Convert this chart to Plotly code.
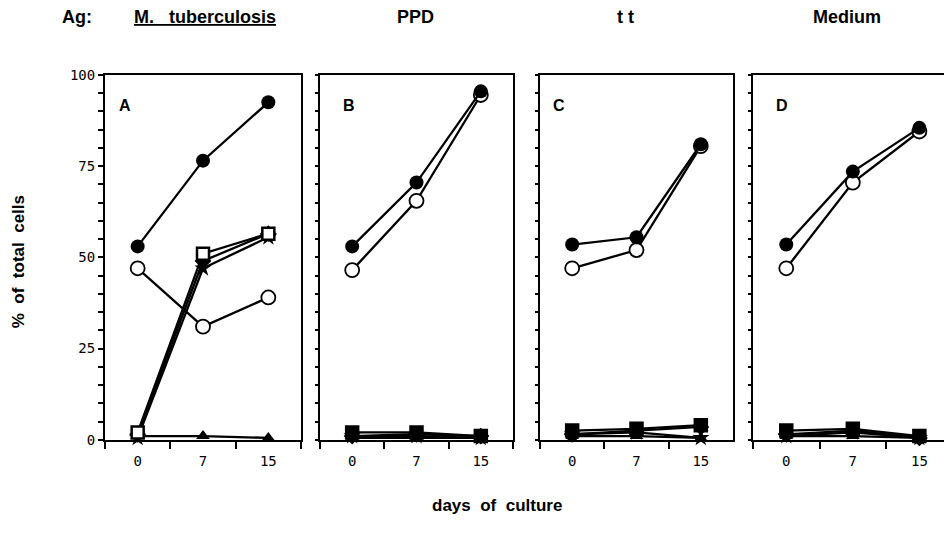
import plotly.graph_objects as go

W, H = 944, 537

days = ["0", "7", "15"]
panels = ["A", "B", "C", "D"]
antigens = ["M. tuberculosis", "PPD", "t t", "Medium"]

# series per panel (% of total cells)
filled_circle = {"A": [53, 76.5, 92.5], "B": [53, 70.5, 95.5], "C": [53.5, 55.5, 81], "D": [53.5, 73.5, 85.5]}
open_circle = {"A": [47, 31, 39], "B": [46.5, 65.5, 94.5], "C": [47, 52, 80.5], "D": [47, 70.5, 84.5]}
square = {"A": [2, 51, 56.5], "B": [2, 2, 1], "C": [2.5, 3, 4], "D": [2.5, 3, 1]}
filled_diamond = {"A": [1.5, 49, 56.5], "B": [1, 1.5, 1], "C": [1.5, 2.5, 3.5], "D": [1.5, 2.5, 0.5]}
filled_star = {"A": [0.5, 47, 55.5], "B": [1, 1, 0.5], "C": [1.5, 2, 0.5], "D": [1, 2, 0.5]}
filled_triangle = {"A": [1, 1, 0.5], "B": [0.5, 0.5, 0.5], "C": [1, 1, 0.5], "D": [1, 1, 0.5]}

y_ticks = list(range(0, 101, 5))
y_labels = [str(v) if v % 25 == 0 else "" for v in y_ticks]

# layout geometry (pixels)
px_left = [105, 320, 540, 753]
px_right = [301, 513, 733, 944]
x_ranges = [[-0.5, 2.5], [-0.5, 2.5], [-0.5, 2.5], [-0.5, 2.37]]
px_top, px_bottom = 69, 445
label_off = [20, 29, 19, 29]
header_x = [205, 415, 625, 847]
header_y = 9

fig = go.Figure()

for i, p in enumerate(panels):
    sfx = "" if i == 0 else str(i + 1)
    sq_fill = "white" if p == "A" else "black"
    series = [
        (filled_triangle, dict(symbol="triangle-up", size=12, color="black")),
        (filled_star, dict(symbol="star", size=13, color="black")),
        (filled_diamond, dict(symbol="diamond", size=13, color="black")),
        (square, dict(symbol="square", size=12, color=sq_fill, line=dict(color="black", width=2.5))),
        (open_circle, dict(symbol="circle", size=14, color="white", line=dict(color="black", width=1.8))),
        (filled_circle, dict(symbol="circle", size=14, color="black")),
    ]
    for data, mk in series:
        fig.add_trace(go.Scatter(
            x=days, y=data[p], mode="lines+markers",
            line=dict(color="black", width=2.3), marker=mk,
            xaxis="x" + sfx, yaxis="y" + sfx, showlegend=False, cliponaxis=False,
        ))

tickfont = dict(family="DejaVu Sans Mono", size=14, color="black")
for i, p in enumerate(panels):
    sfx = "" if i == 0 else str(i + 1)
    fig.layout["xaxis" + sfx] = dict(
        domain=[px_left[i] / W, px_right[i] / W], anchor="y" + sfx,
        type="category", categoryorder="array", categoryarray=days,
        range=x_ranges[i], tickson="boundaries", ticks="outside", ticklen=7, tickwidth=1.5,
        tickcolor="black", showline=True, linecolor="black", linewidth=2, mirror=True,
        showgrid=False, zeroline=False, tickfont=tickfont, fixedrange=True,
        ticklabelstandoff=7,
    )
    fig.layout["yaxis" + sfx] = dict(
        domain=[1 - px_bottom / H, 1 - px_top / H], anchor="x" + sfx,
        range=[0, 100], tickmode="array", tickvals=y_ticks,
        ticktext=y_labels, showticklabels=(i == 0),
        ticks="outside", ticklen=5 if i == 0 else 3, tickwidth=1.5, tickcolor="black",
        showline=True, linecolor="black", linewidth=2, mirror=(i != 3),
        showgrid=False, zeroline=False, tickfont=tickfont, fixedrange=True,
    )
    fig.add_annotation(
        text="<b>" + p + "</b>", xref="x" + sfx + " domain", yref="y" + sfx + " domain",
        x=label_off[i] / (px_right[i] - px_left[i]),
        y=1 - (100 - px_top) / (px_bottom - px_top),
        showarrow=False, xanchor="center", yanchor="middle",
        font=dict(family="Liberation Sans", size=16, color="black"),
    )

hfont = dict(family="Liberation Sans", size=18, color="black")
fig.add_annotation(text="<b>Ag:</b>", xref="paper", yref="paper", x=77 / W, y=1 - header_y / H,
                   showarrow=False, xanchor="center", yanchor="middle", font=hfont)
for i, a in enumerate(antigens):
    txt = "<b><u>" + a.replace(" ", "\u00a0\u00a0\u00a0") + "</u></b>" if i == 0 else "<b>" + a + "</b>"
    fig.add_annotation(text=txt, xref="paper", yref="paper", x=header_x[i] / W, y=1 - header_y / H,
                       showarrow=False, xanchor="center", yanchor="middle", font=hfont)

fig.add_annotation(text="<b>%\u00a0\u00a0of\u00a0\u00a0total\u00a0\u00a0cells</b>", xref="paper", yref="paper",
                   x=18 / W, y=1 - 262 / H, textangle=-90, showarrow=False,
                   xanchor="center", yanchor="middle",
                   font=dict(family="Liberation Sans", size=17, color="black"))
fig.add_annotation(text="<b>days\u00a0\u00a0of\u00a0\u00a0culture</b>", xref="paper", yref="paper",
                   x=497 / W, y=1 - 513 / H, showarrow=False,
                   xanchor="center", yanchor="middle",
                   font=dict(family="Liberation Sans", size=17, color="black"))

fig.update_layout(
    width=W, height=H, margin=dict(l=0, r=0, t=0, b=0),
    paper_bgcolor="white", plot_bgcolor="white", showlegend=False,
)

fig.write_html("out.html")
